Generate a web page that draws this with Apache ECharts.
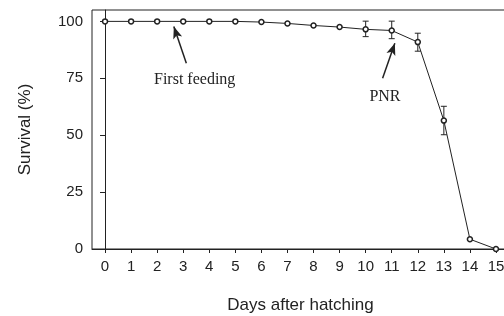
<!DOCTYPE html>
<html>
<head>
    <meta charset="utf-8">
    <script src="https://cdn.jsdelivr.net/npm/echarts@6/dist/echarts.min.js"></script>
</head>
<body style="margin:0; background:#fff;">
    <div id="main" style="width:504px; height:316px;"></div>
</body>
	<script type="text/javascript">
        var days = [0, 1, 2, 3, 4, 5, 6, 7, 8, 9, 10, 11, 12, 13, 14, 15];
		var survival = [100, 100, 100, 100, 100, 100, 99.7, 99.1, 98.2, 97.5, 96.5, 96.0, 90.9, 56.4, 4.3, 0];
		var errHigh = [null, null, null, null, null, null, null, null, null, null, 100.1, 100.1, 94.8, 62.7, null, null];
		var errLow = [null, null, null, null, null, null, null, null, null, null, 93.3, 92.4, 86.9, 50.2, null, null];
		var yTicks = [0, 25, 50, 75, 100];

		var lineData = [];
		var barData = [];
		for (var i = 0; i < days.length; i++) {
			lineData.push([days[i], survival[i]]);
			if (errHigh[i] != null) barData.push([days[i], errLow[i], errHigh[i]]);
		}

        var myChart = echarts.init(document.getElementById('main'));
		var ink = '#222';
      	option = {
			animation: false,
			grid: {
				left: 92, top: 10, right: -5, height: 239,
				outerBoundsMode: 'none',
				show: true, borderColor: ink, borderWidth: 1
			},
			xAxis: {
				type: 'value',
				min: -0.5, max: 15.5,
				splitLine: { show: false },
				axisLine: { lineStyle: { color: ink } },
				axisTick: { customValues: days, length: 4, lineStyle: { color: ink } },
				axisLabel: { customValues: days, color: ink, fontSize: 15, fontFamily: 'Liberation Sans', margin: 10 },
				name: 'Days after hatching',
				nameLocation: 'middle',
				nameGap: 48,
				nameTextStyle: { color: ink, fontSize: 17, fontFamily: 'Liberation Sans' }
			},
			yAxis: {
				type: 'value',
				min: 0, max: 105,
				splitLine: { show: false },
				axisLine: { show: true, lineStyle: { color: ink } },
				axisTick: { show: true, customValues: yTicks, length: 5, lineStyle: { color: ink } },
				axisLabel: { customValues: yTicks, color: ink, fontSize: 15, fontFamily: 'Liberation Sans', margin: 9 },
				name: 'Survival (%)',
				nameLocation: 'middle',
				nameGap: 58,
				nameTextStyle: { color: ink, fontSize: 17, fontFamily: 'Liberation Sans' }
			},
			series: [{
				type: 'line',
				data: lineData,
				symbol: 'circle',
				symbolSize: 5,
				itemStyle: { color: '#fff', borderColor: ink, borderWidth: 1.5 },
				lineStyle: { color: ink, width: 1 },
				z: 3,
				markLine: {
					silent: true,
					symbol: ['none', 'arrow'],
					symbolSize: [7, 12],
					lineStyle: { color: ink, width: 1.5, type: 'solid' },
					label: { show: false },
					data: [
						[{ coord: [3.12, 81.6] }, { coord: [2.64, 97.7] }],
						[{ coord: [10.65, 75] }, { coord: [11.12, 90.4] }]
					]
				},
				markPoint: {
					silent: true,
					symbol: 'circle',
					symbolSize: 0,
					label: {
						show: true, position: 'inside', color: ink,
						fontSize: 16, fontFamily: 'Liberation Serif'
					},
					data: [
						{ coord: [3.44, 74.3], value: 'First feeding', label: { formatter: 'First feeding' } },
						{ coord: [10.74, 66.9], value: 'PNR', label: { formatter: 'PNR' } }
					]
				}
			}, {
				type: 'custom',
				data: barData,
				z: 2,
				renderItem: function (params, api) {
					var x = api.value(0);
					var lo = api.coord([x, api.value(1)]);
					var hi = api.coord([x, api.value(2)]);
					var w = 3;
					var st = { stroke: ink, lineWidth: 1 };
					return {
						type: 'group',
						children: [
							{ type: 'line', shape: { x1: lo[0], y1: lo[1], x2: hi[0], y2: hi[1] }, style: st },
							{ type: 'line', shape: { x1: lo[0] - w, y1: lo[1], x2: lo[0] + w, y2: lo[1] }, style: st },
							{ type: 'line', shape: { x1: hi[0] - w, y1: hi[1], x2: hi[0] + w, y2: hi[1] }, style: st }
						]
					};
				}
			}]
		};
        myChart.setOption(option);
    </script>
</html>
